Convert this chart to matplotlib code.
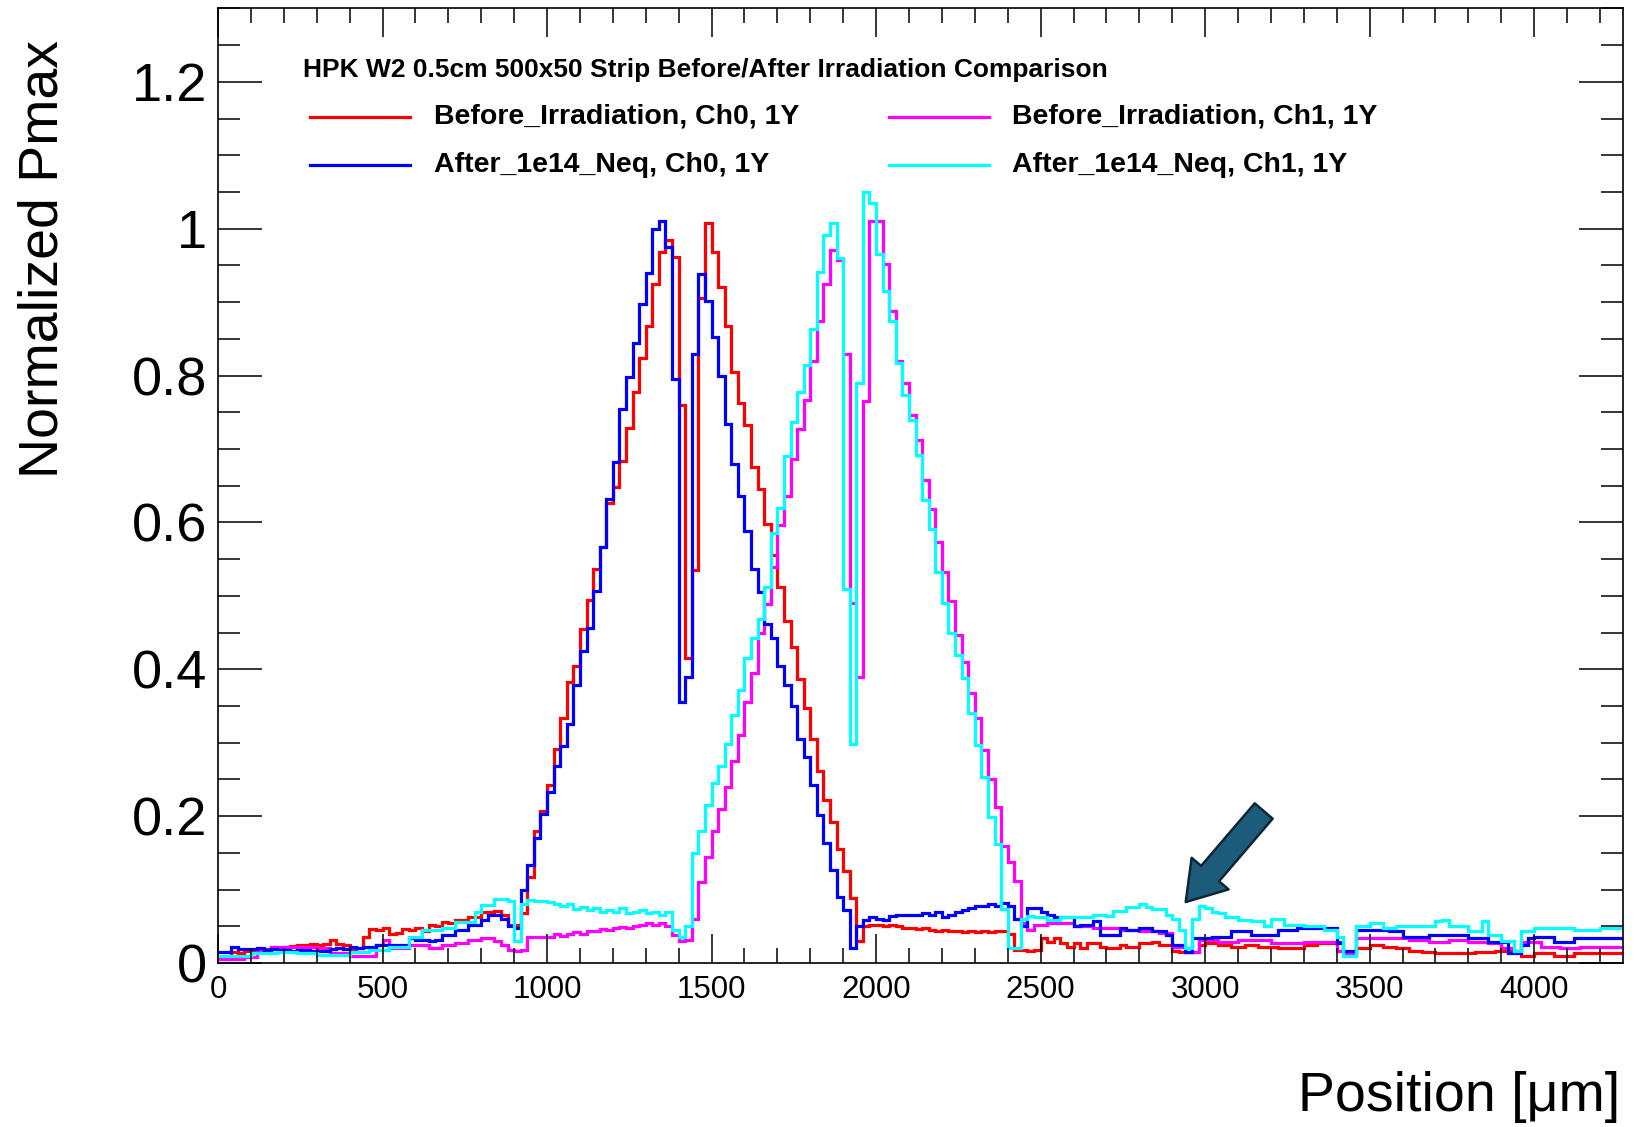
import numpy as np
import matplotlib
matplotlib.use("Agg")
import matplotlib.pyplot as plt
from matplotlib.ticker import MultipleLocator, FuncFormatter
from matplotlib.lines import Line2D

plt.rcParams['font.family'] = ['Liberation Sans', 'DejaVu Sans']

# ---------------- data (bin width 20 um, bins start at 0) ----------------
bin_width = 20

before_ch0 = [
    0.006, 0.006, 0.015, 0.014, 0.016,
    0.018, 0.017, 0.019, 0.022, 0.021,
    0.022, 0.023, 0.025, 0.024, 0.026,
    0.025, 0.026, 0.031, 0.026, 0.024,
    0.018, 0.020, 0.036, 0.046, 0.045,
    0.047, 0.040, 0.041, 0.046, 0.045,
    0.047, 0.043, 0.052, 0.051, 0.056,
    0.055, 0.059, 0.058, 0.063, 0.062,
    0.070, 0.069, 0.071, 0.065, 0.052,
    0.052, 0.068, 0.117, 0.180, 0.207,
    0.243, 0.292, 0.333, 0.383, 0.405,
    0.455, 0.495, 0.536, 0.567, 0.627,
    0.648, 0.683, 0.728, 0.778, 0.824,
    0.868, 0.924, 0.968, 0.985, 0.962,
    0.760, 0.415, 0.535, 0.906, 1.008,
    0.968, 0.921, 0.867, 0.805, 0.762,
    0.732, 0.676, 0.645, 0.598, 0.556,
    0.512, 0.466, 0.430, 0.387, 0.347,
    0.305, 0.262, 0.222, 0.192, 0.155,
    0.125, 0.088, 0.030, 0.050, 0.052,
    0.052, 0.050, 0.052, 0.050, 0.048,
    0.048, 0.046, 0.047, 0.045, 0.044,
    0.045, 0.043, 0.044, 0.042, 0.043,
    0.042, 0.043, 0.042, 0.044, 0.043,
    0.040, 0.018, 0.018, 0.017, 0.018,
    0.034, 0.029, 0.034, 0.027, 0.022,
    0.027, 0.020, 0.027, 0.027, 0.022,
    0.020, 0.020, 0.024, 0.022, 0.022,
    0.027, 0.027, 0.029, 0.024, 0.024,
    0.017, 0.015, 0.015, 0.015, 0.024,
    0.027, 0.027, 0.024, 0.024, 0.022,
    0.022, 0.024, 0.024, 0.022, 0.022,
    0.022, 0.020, 0.020, 0.020, 0.020,
    0.024, 0.024, 0.027, 0.027, 0.027,
    0.029, 0.015, 0.013, 0.020, 0.020,
    0.024, 0.024, 0.022, 0.022, 0.020,
    0.020, 0.017, 0.017, 0.015, 0.015,
    0.013, 0.013, 0.013, 0.013, 0.013,
    0.013, 0.015, 0.015, 0.015, 0.017,
    0.017, 0.017, 0.017, 0.010, 0.010,
    0.013, 0.013, 0.013, 0.010, 0.010,
    0.010, 0.013, 0.013, 0.013, 0.013,
    0.013, 0.013, 0.013, 0.013,
]

after_ch0 = [
    0.015, 0.015, 0.022, 0.019, 0.019,
    0.019, 0.020, 0.018, 0.019, 0.018,
    0.018, 0.017, 0.018, 0.018, 0.016,
    0.016, 0.016, 0.019, 0.020, 0.019,
    0.022, 0.021, 0.022, 0.022, 0.025,
    0.025, 0.024, 0.025, 0.025, 0.034,
    0.031, 0.031, 0.030, 0.031, 0.038,
    0.038, 0.045, 0.045, 0.052, 0.052,
    0.059, 0.065, 0.065, 0.060, 0.050,
    0.048, 0.100, 0.133, 0.170, 0.203,
    0.233, 0.268, 0.295, 0.325, 0.378,
    0.425, 0.456, 0.506, 0.566, 0.632,
    0.682, 0.755, 0.798, 0.845, 0.897,
    0.940, 1.000, 1.010, 0.975, 0.795,
    0.355, 0.390, 0.830, 0.938, 0.902,
    0.852, 0.800, 0.734, 0.680, 0.636,
    0.588, 0.536, 0.505, 0.462, 0.443,
    0.405, 0.379, 0.350, 0.305, 0.280,
    0.242, 0.202, 0.163, 0.127, 0.090,
    0.072, 0.020, 0.050, 0.058, 0.062,
    0.060, 0.058, 0.064, 0.065, 0.065,
    0.066, 0.065, 0.068, 0.066, 0.070,
    0.062, 0.066, 0.070, 0.072, 0.075,
    0.078, 0.078, 0.080, 0.078, 0.082,
    0.078, 0.060, 0.050, 0.075, 0.075,
    0.070, 0.066, 0.062, 0.062, 0.062,
    0.050, 0.052, 0.052, 0.057, 0.038,
    0.038, 0.038, 0.047, 0.045, 0.045,
    0.047, 0.047, 0.043, 0.043, 0.038,
    0.025, 0.025, 0.015, 0.034, 0.034,
    0.034, 0.036, 0.036, 0.036, 0.043,
    0.043, 0.043, 0.038, 0.038, 0.038,
    0.038, 0.045, 0.045, 0.045, 0.048,
    0.048, 0.048, 0.048, 0.048, 0.048,
    0.027, 0.017, 0.017, 0.045, 0.045,
    0.045, 0.045, 0.045, 0.043, 0.043,
    0.036, 0.036, 0.036, 0.036, 0.038,
    0.038, 0.038, 0.038, 0.038, 0.038,
    0.034, 0.034, 0.034, 0.029, 0.029,
    0.029, 0.013, 0.013, 0.024, 0.034,
    0.036, 0.036, 0.036, 0.029, 0.029,
    0.029, 0.034, 0.034, 0.034, 0.034,
    0.034, 0.034, 0.034, 0.034,
]

before_ch1 = [
    0.006, 0.006, 0.006, 0.006, 0.008,
    0.008, 0.018, 0.018, 0.022, 0.022,
    0.022, 0.022, 0.022, 0.022, 0.022,
    0.020, 0.020, 0.013, 0.013, 0.013,
    0.009, 0.009, 0.009, 0.009, 0.025,
    0.031, 0.020, 0.020, 0.020, 0.025,
    0.025, 0.025, 0.020, 0.020, 0.025,
    0.025, 0.027, 0.027, 0.031, 0.031,
    0.034, 0.034, 0.030, 0.025, 0.018,
    0.016, 0.018, 0.036, 0.036, 0.036,
    0.036, 0.040, 0.037, 0.040, 0.042,
    0.040, 0.044, 0.043, 0.046, 0.045,
    0.047, 0.049, 0.048, 0.051, 0.052,
    0.054, 0.052, 0.055, 0.050, 0.038,
    0.030, 0.032, 0.060, 0.110, 0.145,
    0.180, 0.210, 0.240, 0.275, 0.310,
    0.355, 0.395, 0.449, 0.489, 0.539,
    0.596, 0.636, 0.687, 0.727, 0.767,
    0.820, 0.874, 0.924, 0.971, 0.958,
    0.830, 0.490, 0.390, 0.766, 1.010,
    1.010, 0.952, 0.888, 0.820, 0.790,
    0.746, 0.712, 0.658, 0.618, 0.574,
    0.533, 0.493, 0.446, 0.410, 0.368,
    0.334, 0.290, 0.250, 0.213, 0.159,
    0.138, 0.111, 0.054, 0.045, 0.052,
    0.052, 0.055, 0.055, 0.055, 0.055,
    0.050, 0.050, 0.050, 0.048, 0.048,
    0.048, 0.048, 0.045, 0.045, 0.045,
    0.043, 0.043, 0.043, 0.041, 0.041,
    0.022, 0.022, 0.015, 0.015, 0.031,
    0.031, 0.031, 0.029, 0.029, 0.029,
    0.031, 0.031, 0.031, 0.031, 0.031,
    0.027, 0.027, 0.027, 0.027, 0.027,
    0.029, 0.029, 0.029, 0.029, 0.029,
    0.017, 0.013, 0.013, 0.034, 0.034,
    0.034, 0.034, 0.034, 0.034, 0.034,
    0.034, 0.031, 0.031, 0.031, 0.029,
    0.029, 0.029, 0.031, 0.031, 0.031,
    0.029, 0.029, 0.029, 0.027, 0.027,
    0.020, 0.020, 0.017, 0.029, 0.029,
    0.029, 0.022, 0.022, 0.022, 0.020,
    0.020, 0.020, 0.022, 0.022, 0.022,
    0.022, 0.022, 0.022, 0.022,
]

after_ch1 = [
    0.009, 0.009, 0.009, 0.009, 0.009,
    0.013, 0.013, 0.013, 0.013, 0.015,
    0.015, 0.015, 0.013, 0.013, 0.013,
    0.011, 0.011, 0.011, 0.011, 0.011,
    0.015, 0.015, 0.015, 0.018, 0.018,
    0.018, 0.022, 0.022, 0.022, 0.036,
    0.036, 0.045, 0.045, 0.045, 0.047,
    0.047, 0.056, 0.056, 0.056, 0.070,
    0.079, 0.079, 0.087, 0.087, 0.085,
    0.030, 0.081, 0.086, 0.084, 0.084,
    0.083, 0.080, 0.078, 0.080, 0.074,
    0.076, 0.072, 0.075, 0.070, 0.072,
    0.070, 0.075, 0.068, 0.070, 0.072,
    0.068, 0.070, 0.066, 0.070, 0.045,
    0.036, 0.050, 0.150, 0.180, 0.215,
    0.245, 0.268, 0.298, 0.338, 0.372,
    0.415, 0.442, 0.469, 0.512, 0.586,
    0.620, 0.690, 0.737, 0.777, 0.814,
    0.864, 0.941, 0.991, 1.008, 0.960,
    0.510, 0.298, 0.790, 1.050, 1.035,
    0.966, 0.915, 0.874, 0.817, 0.773,
    0.739, 0.692, 0.631, 0.591, 0.533,
    0.490, 0.449, 0.419, 0.388, 0.341,
    0.297, 0.253, 0.199, 0.162, 0.074,
    0.020, 0.020, 0.060, 0.064, 0.062,
    0.062, 0.059, 0.059, 0.062, 0.062,
    0.062, 0.062, 0.062, 0.066, 0.066,
    0.064, 0.071, 0.071, 0.076, 0.076,
    0.080, 0.076, 0.073, 0.073, 0.066,
    0.060, 0.045, 0.020, 0.060, 0.078,
    0.075, 0.070, 0.068, 0.062, 0.062,
    0.059, 0.059, 0.057, 0.057, 0.050,
    0.060, 0.060, 0.052, 0.052, 0.052,
    0.050, 0.050, 0.050, 0.045, 0.045,
    0.036, 0.010, 0.010, 0.050, 0.050,
    0.055, 0.055, 0.048, 0.048, 0.050,
    0.050, 0.050, 0.050, 0.050, 0.050,
    0.057, 0.059, 0.050, 0.050, 0.050,
    0.043, 0.043, 0.057, 0.038, 0.038,
    0.030, 0.030, 0.017, 0.043, 0.043,
    0.048, 0.048, 0.048, 0.048, 0.048,
    0.048, 0.045, 0.045, 0.045, 0.045,
    0.048, 0.048, 0.048, 0.048,
]

series_labels = ["Before_Irradiation, Ch0, 1Y", "Before_Irradiation, Ch1, 1Y",
                 "After_1e14_Neq, Ch0, 1Y", "After_1e14_Neq, Ch1, 1Y"]
header = "HPK W2 0.5cm 500x50 Strip Before/After Irradiation Comparison"
x_range = (0, 4270)
y_range = (0, 1.3)

# ---------------- figure ----------------
W, H = 1650, 1127
fig = plt.figure(figsize=(W / 100, H / 100), dpi=100)
fig.patch.set_facecolor('white')

def fx(px):
    return px / W

def fy(py):
    return 1 - py / H

ax = fig.add_axes([fx(218), fy(963), fx(1623) - fx(218), fy(8.4) - fy(963)])

edges = np.arange(len(before_ch0) + 1) * bin_width
colors = {"red": "#ff0000", "mag": "#ff00ff", "blue": "#0000ff", "cyan": "#00ffff"}
lw = 2.3
ax.stairs(before_ch0, edges, color=colors["red"], lw=lw, baseline=None)
ax.stairs(before_ch1, edges, color=colors["mag"], lw=lw, baseline=None)
ax.stairs(after_ch0, edges, color=colors["blue"], lw=lw, baseline=None)
ax.stairs(after_ch1, edges, color=colors["cyan"], lw=lw, baseline=None)

ax.set_xlim(*x_range)
ax.set_ylim(*y_range)

ax.xaxis.set_major_locator(MultipleLocator(500))
ax.xaxis.set_minor_locator(MultipleLocator(100))
ax.yaxis.set_major_locator(MultipleLocator(0.2))
ax.yaxis.set_minor_locator(MultipleLocator(0.05))
ax.yaxis.set_major_formatter(FuncFormatter(lambda v, p: f"{v:g}"))
ax.xaxis.set_major_formatter(FuncFormatter(lambda v, p: f"{v:g}"))

ax.tick_params(which='both', direction='in', top=True, right=True, color='black')
ax.tick_params(axis='x', which='major', length=21, width=1.1, labelsize=22.5, pad=9)
ax.tick_params(axis='x', which='minor', length=10.5, width=1.1)
ax.tick_params(axis='y', which='major', length=32, width=1.1, labelsize=39, pad=8)
ax.tick_params(axis='y', which='minor', length=16, width=1.1)
for s in ax.spines.values():
    s.set_linewidth(1.2)

# axis titles (ROOT style placement)
fig.text(fx(1620), fy(1097), "Position [\u03bcm]", ha='right', va='center', fontsize=40)
fig.text(fx(44), fy(40), "Normalized Pmax", rotation=90, ha='center', va='top', fontsize=40)

# legend
fig.text(fx(303), fy(69.5), header, fontsize=19, fontweight='bold', ha='left', va='center')
legend_rows = [
    (117, [(310, 410, 433.5, colors["red"], series_labels[0]),
           (889, 989, 1012, colors["mag"], series_labels[1])]),
    (165, [(310, 410, 433.5, colors["blue"], series_labels[2]),
           (889, 989, 1012, colors["cyan"], series_labels[3])]),
]
for yy, entries in legend_rows:
    for x0, x1, xt, c, lab in entries:
        fig.add_artist(Line2D([fx(x0), fx(x1)], [fy(yy), fy(yy)], color=c, lw=lw,
                              transform=fig.transFigure))
        fig.text(fx(xt), fy(yy), lab, fontsize=20.5, fontweight='bold', ha='left', va='center')

# arrow annotation pointing to the dip
ax.annotate('', xy=(2941, 0.083), xytext=(3178, 0.207),
            arrowprops=dict(arrowstyle='simple,head_length=1.35,head_width=1.75,tail_width=0.85',
                            fc='#1d5b7b', ec='#0d2636', lw=1.8, mutation_scale=20,
                            shrinkA=0, shrinkB=0))

fig.savefig("out.png", dpi=100, facecolor='white')
